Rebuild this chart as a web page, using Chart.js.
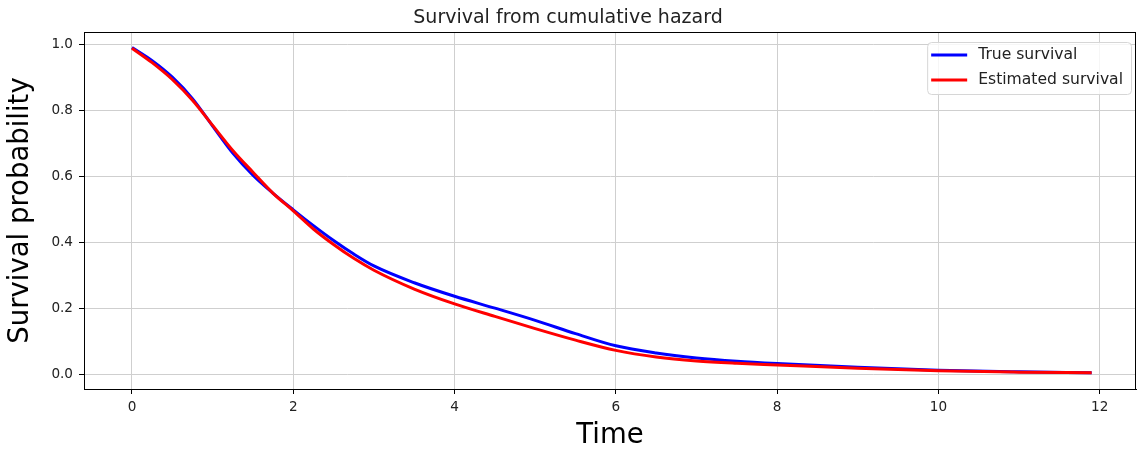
<!DOCTYPE html>
<html>
<head>
<meta charset="utf-8">
<title>Survival from cumulative hazard</title>
<script src="https://cdn.jsdelivr.net/npm/chart.js@4.4.1/dist/chart.umd.min.js"></script>
<style>
  html, body { margin: 0; padding: 0; background: #fff; }
  #wrap { width: 1137px; height: 450px; }
</style>
</head>
<body>
<div id="wrap"><canvas id="survivalChart" width="1137" height="450"></canvas></div>
<script>
// time grid and the two survival curves
const timePoints = [0, 0.25, 0.5, 0.75, 1.0, 1.25, 1.5, 1.75, 2.0, 2.25, 2.5, 2.75, 3.0, 3.5, 4.0, 4.5, 5.0, 5.5, 6.0, 6.5, 7.0, 7.5, 8.0, 9.0, 10.0, 11.0, 11.9];
const trueSurvival = [0.990, 0.950, 0.900, 0.835, 0.752, 0.670, 0.603, 0.548, 0.498, 0.450, 0.405, 0.364, 0.328, 0.277, 0.236, 0.200, 0.163, 0.123, 0.086, 0.064, 0.049, 0.039, 0.032, 0.021, 0.012, 0.007, 0.004];
const estimatedSurvival = [0.988, 0.944, 0.893, 0.830, 0.754, 0.678, 0.612, 0.548, 0.495, 0.440, 0.393, 0.351, 0.315, 0.258, 0.213, 0.175, 0.138, 0.103, 0.072, 0.052, 0.040, 0.033, 0.028, 0.018, 0.010, 0.006, 0.004];
const xTicks = [0, 2, 4, 6, 8, 10, 12];
const yTicks = [0.0, 0.2, 0.4, 0.6, 0.8, 1.0];

const FONT = "'DejaVu Sans', sans-serif";
const gridColor = '#cfcfcf';

function toPoints(ys) {
  return timePoints.map((t, i) => ({ x: t, y: ys[i] }));
}

// box around the plot area (top and right sides too)
const frame = {
  id: 'frame',
  afterDatasetsDraw(chart) {
    const { ctx, chartArea: a } = chart;
    ctx.save();
    ctx.strokeStyle = '#000';
    ctx.lineWidth = 1;
    ctx.strokeRect(Math.round(a.left) + 0.5, Math.round(a.top) + 0.5,
                   Math.round(a.right - a.left) - 1, Math.round(a.bottom - a.top));
    ctx.restore();
  }
};

// legend box in the upper right corner
const boxLegend = {
  id: 'boxLegend',
  afterDraw(chart) {
    const { ctx, chartArea: a } = chart;
    const sets = chart.data.datasets;
    ctx.save();
    ctx.font = '15.6px ' + FONT;
    let tw = 0;
    sets.forEach(d => { tw = Math.max(tw, ctx.measureText(d.label).width); });
    const padL = 4, sample = 36, gap = 11, padR = 8;
    const w = padL + sample + gap + tw + padR;
    const h = 52;
    const x = a.right - 5 - w;
    const y = a.top + 10;
    ctx.beginPath();
    ctx.roundRect(x + 0.5, y + 0.5, w, h, 4);
    ctx.fillStyle = 'rgba(255,255,255,0.8)';
    ctx.fill();
    ctx.strokeStyle = '#d6d6d6';
    ctx.lineWidth = 1;
    ctx.stroke();
    sets.forEach((d, i) => {
      const ry = y + 13 + i * 25;
      ctx.beginPath();
      ctx.moveTo(x + padL, ry);
      ctx.lineTo(x + padL + sample, ry);
      ctx.strokeStyle = d.borderColor;
      ctx.lineWidth = 3;
      ctx.stroke();
      ctx.fillStyle = '#222';
      ctx.textBaseline = 'middle';
      ctx.textAlign = 'left';
      ctx.fillText(d.label, x + padL + sample + gap, ry);
    });
    ctx.restore();
  }
};

new Chart(document.getElementById('survivalChart'), {
  type: 'line',
  data: {
    datasets: [{
      label: 'True survival',
      data: toPoints(trueSurvival),
      borderColor: '#0000ff',
      borderWidth: 3,
      pointRadius: 0,
      cubicInterpolationMode: 'monotone',
      order: 1
    }, {
      label: 'Estimated survival',
      data: toPoints(estimatedSurvival),
      borderColor: '#ff0000',
      borderWidth: 3,
      pointRadius: 0,
      cubicInterpolationMode: 'monotone',
      order: 0
    }]
  },
  options: {
    responsive: false,
    animation: false,
    devicePixelRatio: 1,
    layout: { padding: { left: 0, right: 1, top: 0, bottom: 0 } },
    plugins: {
      legend: { display: false },
      tooltip: { enabled: false },
      title: {
        display: true,
        text: 'Survival from cumulative hazard',
        color: '#222',
        font: { family: FONT, size: 19, weight: 'normal', lineHeight: 1.0 },
        padding: { top: 9, bottom: 4 }
      }
    },
    scales: {
      x: {
        type: 'linear',
        min: -0.595,
        max: 12.45,
        afterBuildTicks: s => { s.ticks = xTicks.map(v => ({ value: v })); },
        afterFit: s => { s.height = 61; },
        ticks: {
          color: '#222',
          padding: 5,
          font: { family: FONT, size: 13.6 },
          callback: v => String(v)
        },
        grid: { color: gridColor, lineWidth: 1, tickColor: '#000', tickLength: 5 },
        border: { display: true, color: '#000' },
        title: {
          display: true,
          text: 'Time',
          color: '#000',
          font: { family: FONT, size: 27.5, lineHeight: 1.0 },
          padding: { top: 0, bottom: 0 }
        }
      },
      y: {
        type: 'linear',
        min: -0.045,
        max: 1.037,
        afterBuildTicks: s => { s.ticks = yTicks.map(v => ({ value: v })); },
        afterFit: s => { s.width = 84; },
        ticks: {
          color: '#222',
          padding: 6,
          font: { family: FONT, size: 13.6 },
          callback: v => Number(v).toFixed(1)
        },
        grid: { color: gridColor, lineWidth: 1, tickColor: '#000', tickLength: 5 },
        border: { display: true, color: '#000' },
        title: {
          display: true,
          text: 'Survival probability',
          color: '#000',
          font: { family: FONT, size: 27.5, lineHeight: 1.0 },
          padding: { top: 7, bottom: 0 }
        }
      }
    }
  },
  plugins: [frame, boxLegend]
});
</script>
</body>
</html>
